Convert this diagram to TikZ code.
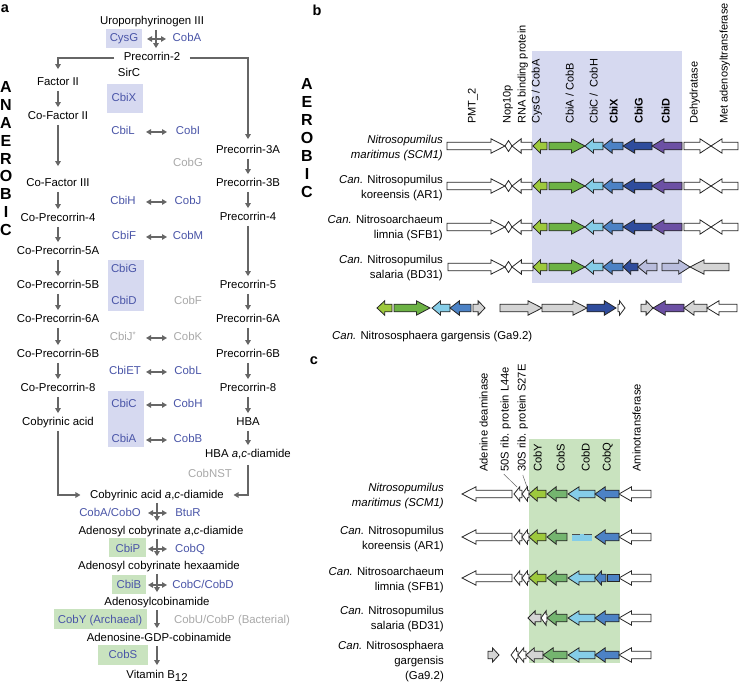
\documentclass[tikz,border=0pt]{standalone}
\usepackage{fontspec}
\setmainfont{Liberation Sans}
\usetikzlibrary{arrows.meta}
\definecolor{lav}{HTML}{D6D9F0}
\definecolor{gbox}{HTML}{C9E3BF}
\definecolor{bluet}{HTML}{4A55A8}
\definecolor{grayt}{HTML}{A9A9A9}
\definecolor{arrc}{HTML}{666666}
\definecolor{ygreen}{HTML}{9DC93C}
\definecolor{mgreen}{HTML}{6CB244}
\definecolor{cgreen}{HTML}{74B56F}
\definecolor{lblue}{HTML}{85CDE8}
\definecolor{mblue}{HTML}{4C82C5}
\definecolor{dblue}{HTML}{2F4C9C}
\definecolor{purp}{HTML}{6C50A4}
\definecolor{pale}{HTML}{B9BDDD}
\definecolor{grayg}{HTML}{D4D4D4}
\tikzset{
 txt/.style={font=\fontsize{11.4}{13}\selectfont, inner sep=2.5pt, text height=8.2pt, text depth=2.2pt},
 bt/.style={txt, text=bluet},
 gt/.style={txt, text=grayt},
 arr/.style={draw=arrc, line width=1.3pt, shorten >=2pt, -{Triangle[length=5pt,width=5.5pt]}},
 dbl/.style={draw=arrc, line width=1.3pt, {Triangle[length=5pt,width=5.5pt]}-{Triangle[length=5pt,width=5.5pt]}},
 gene/.style={draw=black!85, line width=0.8pt, line join=miter},
 hdr/.style={font=\fontsize{11}{13}\selectfont, rotate=90, anchor=mid west, inner sep=0pt},
 lbl/.style={font=\fontsize{11.4}{15}\selectfont, align=right, anchor=east, inner sep=0pt},
 bigl/.style={font=\fontsize{16}{18}\selectfont\bfseries, inner sep=0pt},
 panel/.style={font=\fontsize{14.5}{16}\selectfont\bfseries, inner sep=0pt},
 leader/.style={draw=black!60, line width=0.5pt},
}
\newcommand\GR[4]{\pgfmathsetmacro\ghl{min(14,0.28*(#2-#1)+3.5,0.85*(#2-#1))}%
\filldraw[gene,fill=#4] (#1,#3-3.8) -- ({#2-\ghl},#3-3.8) -- ({#2-\ghl},#3-7.2) -- (#2,#3) -- ({#2-\ghl},#3+7.2) -- ({#2-\ghl},#3+3.8) -- (#1,#3+3.8) -- cycle;}
\newcommand\GL[4]{\pgfmathsetmacro\ghl{min(14,0.28*(#2-#1)+3.5,0.85*(#2-#1))}%
\filldraw[gene,fill=#4] (#2,#3-3.8) -- ({#1+\ghl},#3-3.8) -- ({#1+\ghl},#3-7.2) -- (#1,#3) -- ({#1+\ghl},#3+7.2) -- ({#1+\ghl},#3+3.8) -- (#2,#3+3.8) -- cycle;}
\newcommand\GD[3]{\filldraw[gene,fill=white] (#1,#3) -- ({(#1+#2)/2},#3-5.5) -- (#2,#3) -- ({(#1+#2)/2},#3+5.5) -- cycle;}
\begin{document}
\begin{tikzpicture}[x=1pt,y=-1pt]
\useasboundingbox (0,0) rectangle (742,684);
\fill[white] (0,0) rectangle (742,684);
% shadings
\fill[lav] (532,51) rectangle (682,283);
\fill[gbox] (529,439) rectangle (620,663);
\fill[lav] (106,29) rectangle (142,48);
\fill[lav] (107,84) rectangle (143,113);
\fill[lav] (108,260) rectangle (144,311);
\fill[lav] (108,391) rectangle (144,447);
\fill[gbox] (109,538) rectangle (146,557);
\fill[gbox] (112,575) rectangle (146,594);
\fill[gbox] (54,609) rectangle (147,629);
\fill[gbox] (98,645) rectangle (148,665);
% panel letters
\node[panel] (pa) at (5,9) {a};
\node[panel] (pb) at (317,10) {b};
\node[panel] (pc) at (314,361) {c};
\foreach \l [count=\i] in {A,N,A,E,R,O,B,I,C} \node[bigl] (an\i) at (6,69+17.9*\i) {\l};
\foreach \l [count=\i] in {A,E,R,O,B,I,C} \node[bigl] (ae\i) at (307,66+18*\i) {\l};
% panel a nodes
\node[txt] (uro) at (152,22) {Uroporphyrinogen III};
\node[bt] (cysg) at (124,39) {CysG};
\node[bt] (coba) at (187,39) {CobA};
\node[txt] (p2) at (152,58) {Precorrin-2};
\node[txt] (sirc) at (129,74) {SirC};
\node[bt] (cbix) at (124,99) {CbiX};
\node[txt] (f2) at (58,83) {Factor II};
\node[txt] (cf2) at (58,117) {Co-Factor II};
\node[bt] (cbil) at (123,132) {CbiL};
\node[bt] (cobi) at (188,132) {CobI};
\node[gt] (cobg) at (188,164) {CobG};
\node[txt] (p3a) at (248,151) {Precorrin-3A};
\node[txt] (cf3) at (58,184) {Co-Factor III};
\node[txt] (p3b) at (248,184) {Precorrin-3B};
\node[bt] (cbih) at (123,202) {CbiH};
\node[bt] (cobj) at (188,202) {CobJ};
\node[txt] (cp4) at (58,219) {Co-Precorrin-4};
\node[txt] (p4) at (248,218) {Precorrin-4};
\node[bt] (cbif) at (124,237) {CbiF};
\node[bt] (cobm) at (188,237) {CobM};
\node[txt] (cp5a) at (58,252) {Co-Precorrin-5A};
\node[bt] (cbig) at (124,270) {CbiG};
\node[txt] (cp5b) at (58,286) {Co-Precorrin-5B};
\node[txt] (p5) at (248,286) {Precorrin-5};
\node[bt] (cbid) at (124,302) {CbiD};
\node[gt] (cobf) at (188,302) {CobF};
\node[txt] (cp6a) at (58,320) {Co-Precorrin-6A};
\node[txt] (p6a) at (248,320) {Precorrin-6A};
\node[gt] (cbij) at (123,338) {CbiJ\textsuperscript{*}};
\node[gt] (cobk) at (188,338) {CobK};
\node[txt] (cp6b) at (58,355) {Co-Precorrin-6B};
\node[txt] (p6b) at (248,355) {Precorrin-6B};
\node[bt] (cbiet) at (125,372) {CbiET};
\node[bt] (cobl) at (188,372) {CobL};
\node[txt] (cp8) at (58,389) {Co-Precorrin-8};
\node[txt] (p8) at (248,389) {Precorrin-8};
\node[bt] (cbic) at (124,405) {CbiC};
\node[bt] (cobh) at (188,405) {CobH};
\node[txt] (cba) at (58,423) {Cobyrinic acid};
\node[txt] (hba) at (248,423) {HBA};
\node[bt] (cbia) at (124,440) {CbiA};
\node[bt] (cobb) at (188,440) {CobB};
\node[txt] (hbad) at (248,455) {HBA \textit{a},\textit{c}-diamide};
\node[gt] (cobnst) at (210,475) {CobNST};
\node[txt] (cad) at (157,495) {Cobyrinic acid \textit{a},\textit{c}-diamide};
\node[bt] (cobao) at (110,513) {CobA/CobO};
\node[bt] (btur) at (188,513) {BtuR};
\node[txt] (acd) at (161,531) {Adenosyl cobyrinate \textit{a},\textit{c}-diamide};
\node[bt] (cbip) at (128,549) {CbiP};
\node[bt] (cobq) at (190,549) {CobQ};
\node[txt] (ach) at (159,566) {Adenosyl cobyrinate hexaamide};
\node[bt] (cbib) at (129,585) {CbiB};
\node[bt] (cobcd) at (203,585) {CobC/CobD};
\node[txt] (adc) at (157,602) {Adenosylcobinamide};
\node[bt] (coby) at (100,620) {CobY (Archaeal)};
\node[gt] (cobup) at (232,620) {CobU/CobP (Bacterial)};
\node[txt] (agdp) at (159,638) {Adenosine-GDP-cobinamide};
\node[bt] (cobs) at (123,655) {CobS};
\node[txt] (vb) at (157,675) {Vitamin B\raisebox{-3.5pt}{12}};
% helper coordinates for the arrow columns
\coordinate (hl) at (147,0); \coordinate (hr) at (166,0); \coordinate (vx) at (156,0);
\coordinate (hl2) at (146,0); \coordinate (hr2) at (167,0);
\coordinate (hl3) at (148,0); \coordinate (hr3) at (167,0); \coordinate (vx2) at (157,0);
% panel a arrows
\draw[dbl] (cysg -| hl) -- (coba -| hr);
\draw[arr] (uro.south -| vx) -- (p2.north -| vx);
\draw[arr, shorten <=7pt, shorten >=6pt] (p2.west) -| (f2.north);
\draw[arr, shorten <=7pt, shorten >=4pt] (p2.east) -| (p3a.north);
\draw[arr] (f2) -- (cf2);
\draw[arr, shorten >=10pt] (cf2) -- (cf3);
\draw[arr] (cf3) -- (cp4);
\draw[arr] (cp4) -- (cp5a);
\draw[arr] (cp5a) -- (cp5b);
\draw[arr] (cp5b) -- (cp6a);
\draw[arr] (cp6a) -- (cp6b);
\draw[arr] (cp6b) -- (cp8);
\draw[arr] (cp8) -- (cba);
\draw[arr] (p3a) -- (p3b);
\draw[arr] (p3b) -- (p4);
\draw[arr] (p4) -- (p5);
\draw[arr] (p5) -- (p6a);
\draw[arr] (p6a) -- (p6b);
\draw[arr] (p6b) -- (p8);
\draw[arr] (p8) -- (hba);
\draw[arr] (hba) -- (hbad);
\foreach \a/\b in {cbil/cobi,cbih/cobj,cbif/cobm,cbij/cobk,cbiet/cobl,cbic/cobh,cbia/cobb}
  \draw[dbl] (\a -| hl2) -- (\b -| hr2);
\draw[arr, shorten >=7pt] (cba.south) |- (cad.west);
\draw[arr, shorten >=7pt, shorten <=2pt] (hbad.south) |- (cad.east);
\draw[dbl] (cobao -| hl3) -- (btur -| hr3);
\draw[arr] (cad.south -| vx2) -- (acd.north -| vx2);
\draw[dbl] (cbip -| hl3) -- (cobq -| hr3);
\draw[arr] (acd.south -| vx2) -- (ach.north -| vx2);
\draw[dbl] (cbib -| hl3) -- (cobcd -| hr3);
\draw[arr] (ach.south -| vx2) -- (adc.north -| vx2);
\draw[arr] (adc.south -| vx2) -- (agdp.north -| vx2);
\draw[arr] (agdp.south -| vx2) -- (vb.north -| vx2);
% panel b headers
\node[hdr] (hpmt) at (473,124) {PMT\_2};
\node[hdr] (hnop) at (508,124) {Nop10p};
\node[hdr] (hrna) at (523,124) {RNA binding protein};
\node[hdr] (hcysg) at (537,124) {CysG / CobA};
\node[hdr] (hcbia) at (571,124) {CbiA / CobB};
\node[hdr] (hcbic) at (595,124) {CbiC / \ CobH};
\node[hdr,font=\fontsize{11}{13}\selectfont\bfseries] (hcbix) at (615,124) {CbiX};
\node[hdr,font=\fontsize{11}{13}\selectfont\bfseries] (hcbig) at (640,124) {CbiG};
\node[hdr,font=\fontsize{11}{13}\selectfont\bfseries] (hcbid) at (667,124) {CbiD};
\node[hdr] (hdeh) at (695,124) {Dehydratase};
\node[hdr] (hmet) at (725,124) {Met adenosyltransferase};
% panel b labels
\node[lbl] (lb1) at (443,148) {\textit{Nitrosopumilus}\\\textit{maritimus (SCM1)}};
\node[lbl] (lb2) at (443,188) {\textit{Can.} Nitrosopumilus\\koreensis (AR1)};
\node[lbl] (lb3) at (443,228) {\textit{Can.} Nitrosoarchaeum\\limnia (SFB1)};
\node[lbl] (lb4) at (443,268) {\textit{Can.} Nitrosopumilus\\salaria (BD31)};
\node[lbl, anchor=west] (lb5) at (332,337) {\textit{Can.} Nitrososphaera gargensis (Ga9.2)};
% panel b genes
\foreach \y in {146,186,227} {
 \GR{447}{505}{\y}{white} \GD{505}{512}{\y} \GL{512}{532}{\y}{white}
 \GL{533}{547}{\y}{ygreen} \GR{549}{585}{\y}{mgreen} \GL{585}{603}{\y}{lblue}
 \GL{603}{623}{\y}{mblue} \GL{623}{652}{\y}{dblue} \GL{652}{682}{\y}{purp}
 \GR{684}{711}{\y}{white} \GL{711}{738}{\y}{white}
}
\GR{448}{505}{267}{white} \GD{505}{512}{267} \GL{512}{533}{267}{white}
\GL{533}{547}{267}{ygreen} \GR{549}{585}{267}{mgreen} \GL{585}{603}{267}{lblue}
\GL{603}{623}{267}{mblue} \GL{623}{638}{267}{dblue} \GL{638}{657}{267}{pale}
\GR{662}{690}{267}{pale} \GL{690}{729}{267}{grayg}
\GL{377}{392}{308}{ygreen} \GR{394}{430}{308}{mgreen} \GL{432}{450}{308}{lblue}
\GL{450}{471}{308}{mblue} \GR{473}{485}{308}{grayg} \GR{500}{542}{308}{grayg}
\GR{542}{587}{308}{grayg} \GR{587}{616}{308}{dblue} \GR{618}{625}{308}{white}
\GR{641}{653}{308}{grayg} \GL{653}{684}{308}{purp} \GL{684}{707}{308}{grayg}
\GL{707}{737}{308}{white}
% panel c headers
\node[hdr,font=\fontsize{11.2}{13}\selectfont] (hade) at (485,472) {Adenine deaminase};
\node[hdr,font=\fontsize{11.2}{13}\selectfont] (h50) at (506,472) {50S rib. protein L44e};
\node[hdr,font=\fontsize{11.2}{13}\selectfont] (h30) at (523,472) {30S rib. protein S27E};
\node[hdr,font=\fontsize{11.2}{13}\selectfont] (hcoby) at (539,472) {CobY};
\node[hdr,font=\fontsize{11.2}{13}\selectfont] (hcobs) at (562,472) {CobS};
\node[hdr,font=\fontsize{11.2}{13}\selectfont] (hcobd) at (587,472) {CobD};
\node[hdr,font=\fontsize{11.2}{13}\selectfont] (hcobq) at (608,472) {CobQ};
\node[hdr,font=\fontsize{11.2}{13}\selectfont] (hamin) at (638,472) {Aminotransferase};
% panel c labels
\node[lbl] (lc1) at (444,496) {\textit{Nitrosopumilus}\\\textit{maritimus (SCM1)}};
\node[lbl] (lc2) at (444,539) {\textit{Can.} Nitrosopumilus\\koreensis (AR1)};
\node[lbl] (lc3) at (444,580) {\textit{Can.} Nitrosoarchaeum\\limnia (SFB1)};
\node[lbl] (lc4) at (444,619) {\textit{Can.} Nitrosopumilus\\salaria (BD31)};
\node[lbl] (lc5) at (444,662) {\textit{Can.} Nitrososphaera\\gargensis\\(Ga9.2)};
% panel c genes
\foreach \y in {494,537,578} {
 \GL{462}{512}{\y}{white} \GL{514}{522}{\y}{white} \GL{522}{529}{\y}{white}
 \GL{529}{546}{\y}{ygreen} \GL{547}{567}{\y}{cgreen} \GL{619}{651}{\y}{white}
}
\GL{568}{595}{494}{lblue} \GL{595}{619}{494}{mblue}
\fill[lblue] (572,534) rectangle (592,540.5);
\draw[draw=black!70, line width=0.9pt, dash pattern=on 8pt off 4pt] (572,534) -- (592,534);
\GL{595}{619}{537}{mblue}
\GL{568}{595}{578}{lblue} \GL{595}{606}{578}{mblue}
\filldraw[gene,fill=mblue] (607,574.2) rectangle (619,581.8);
\GL{528}{541}{618}{grayg} \GL{541}{547}{618}{white} \GL{547}{567}{618}{cgreen}
\GL{568}{595}{618}{lblue} \GL{595}{619}{618}{mblue} \GL{619}{651}{618}{white}
\GR{488}{499}{655}{grayg} \GL{511}{518}{655}{white} \GL{518}{526}{655}{white}
\GL{526}{543}{655}{grayg} \GL{543}{567}{655}{cgreen} \GL{568}{595}{655}{lblue}
\GL{595}{619}{655}{mblue} \GL{619}{651}{655}{white}
\coordinate (g50) at (517,487);
\coordinate (g30) at (527,487);
\draw[leader] ([shift={(-2,2)}]h50.west) -- (g50);
\draw[leader] ([shift={(0,3)}]h30.west) -- (g30);
\end{tikzpicture}
\end{document}
